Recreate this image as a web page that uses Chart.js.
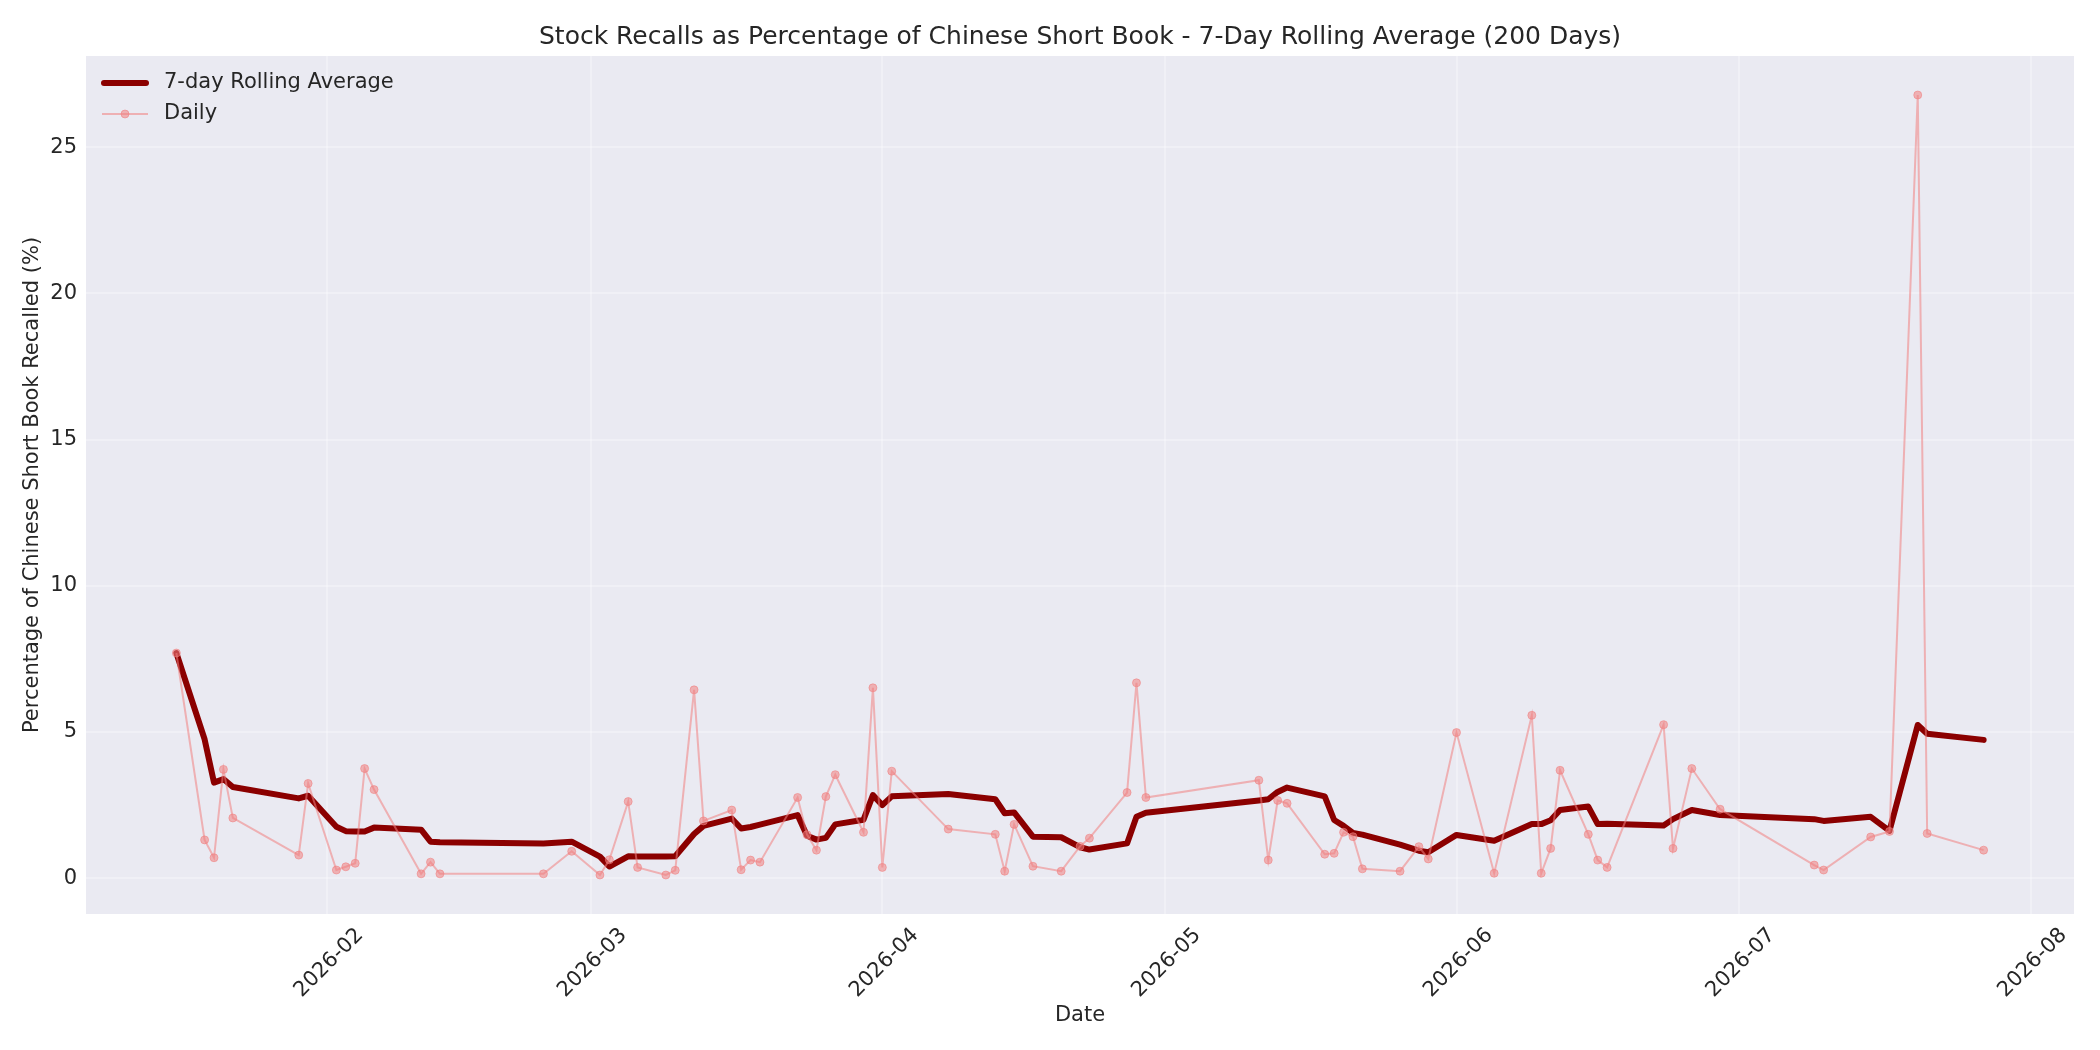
<!DOCTYPE html>
<html>
<head>
<meta charset="utf-8">
<title>Stock Recalls</title>
<script src="https://cdn.jsdelivr.net/npm/chart.js@4.4.1/dist/chart.umd.min.js"></script>
<style>
  html, body { margin: 0; padding: 0; background: #ffffff; }
  #wrap { width: 2100px; height: 1050px; }
</style>
</head>
<body>
<div id="wrap"><canvas id="myChart" width="2100" height="1050"></canvas></div>
<script>
'use strict';

// trading days that have a value
const dates = [
  '2026-01-16', '2026-01-19', '2026-01-20', '2026-01-21', '2026-01-22', '2026-01-29', '2026-01-30',
  '2026-02-02', '2026-02-03', '2026-02-04', '2026-02-05', '2026-02-06', '2026-02-11', '2026-02-12',
  '2026-02-13', '2026-02-24', '2026-02-27', '2026-03-02', '2026-03-03', '2026-03-05', '2026-03-06',
  '2026-03-09', '2026-03-10', '2026-03-12', '2026-03-13', '2026-03-16', '2026-03-17', '2026-03-18',
  '2026-03-19', '2026-03-23', '2026-03-24', '2026-03-25', '2026-03-26', '2026-03-27', '2026-03-30',
  '2026-03-31', '2026-04-01', '2026-04-02', '2026-04-08', '2026-04-13', '2026-04-14', '2026-04-15',
  '2026-04-17', '2026-04-20', '2026-04-22', '2026-04-23', '2026-04-27', '2026-04-28', '2026-04-29',
  '2026-05-11', '2026-05-12', '2026-05-13', '2026-05-14', '2026-05-18', '2026-05-19', '2026-05-20',
  '2026-05-21', '2026-05-22', '2026-05-26', '2026-05-28', '2026-05-29', '2026-06-01', '2026-06-05',
  '2026-06-09', '2026-06-10', '2026-06-11', '2026-06-12', '2026-06-15', '2026-06-16', '2026-06-17',
  '2026-06-23', '2026-06-24', '2026-06-26', '2026-06-29', '2026-07-09', '2026-07-10', '2026-07-15',
  '2026-07-17', '2026-07-20', '2026-07-21', '2026-07-27'
];

// daily recall share (%)
const dailyPct = [
  7.70, 1.31, 0.70, 3.72, 2.06, 0.79, 3.24,
  0.28, 0.39, 0.51, 3.75, 3.03, 0.15, 0.55,
  0.15, 0.15, 0.92, 0.11, 0.63, 2.62, 0.37,
  0.11, 0.27, 6.44, 1.96, 2.33, 0.29, 0.62,
  0.55, 2.76, 1.49, 0.96, 2.79, 3.54, 1.57,
  6.51, 0.37, 3.66, 1.68, 1.50, 0.24, 1.84,
  0.41, 0.24, 1.09, 1.37, 2.93, 6.68, 2.76,
  3.35, 0.62, 2.66, 2.56, 0.82, 0.85, 1.57,
  1.42, 0.32, 0.24, 1.08, 0.66, 4.98, 0.17,
  5.57, 0.17, 1.02, 3.69, 1.50, 0.62, 0.37,
  5.25, 1.02, 3.75, 2.36, 0.45, 0.28, 1.41,
  1.60, 26.78, 1.53, 0.96
];

// 7-day rolling average (%)
const rollingPct = [
  7.70, 4.75, 3.27, 3.39, 3.12, 2.73, 2.82,
  1.76, 1.61, 1.60, 1.60, 1.73, 1.66, 1.25,
  1.23, 1.19, 1.25, 0.74, 0.40, 0.75, 0.74,
  0.74, 0.75, 1.51, 1.79, 2.04, 1.70, 1.75,
  1.83, 2.16, 1.45, 1.32, 1.38, 1.84, 2.00,
  2.84, 2.50, 2.80, 2.88, 2.70, 2.22, 2.25,
  1.42, 1.40, 1.06, 0.98, 1.19, 2.10, 2.24,
  2.66, 2.70, 2.95, 3.10, 2.80, 1.99, 1.79,
  1.55, 1.49, 1.15, 0.94, 0.89, 1.48, 1.28,
  1.85, 1.85, 1.98, 2.33, 2.45, 1.85, 1.86,
  1.80, 2.02, 2.33, 2.16, 2.02, 1.96, 2.10,
  1.62, 5.24, 4.94, 4.73
];

const xTickLabels = ['2026-02', '2026-03', '2026-04', '2026-05', '2026-06', '2026-07', '2026-08'];
const yTicks = [0, 5, 10, 15, 20, 25];

const toMs = (s) => Date.parse(s + 'T00:00:00Z');
const xs = dates.map(toMs);
const xTickValues = xTickLabels.map(l => toMs(l + '-01'));

// matplotlib style 5% margins
const xSpan = xs[xs.length - 1] - xs[0];
const xMin = xs[0] - xSpan * 0.05;
const xMax = xs[xs.length - 1] + xSpan * 0.05;
const allY = dailyPct.concat(rollingPct);
const yLo = Math.min(...allY);
const yHi = Math.max(...allY);
const yMin = yLo - (yHi - yLo) * 0.05;
const yMax = yHi + (yHi - yLo) * 0.05;

const fmtMonth = (v) => {
  const d = new Date(v);
  return d.getUTCFullYear() + '-' + String(d.getUTCMonth() + 1).padStart(2, '0');
};

const TEXT = '#262626';
const DAILY_COLOR = 'rgba(240, 128, 128, 0.55)';
const ROLL_COLOR = '#8b0000';
const GRID_COLOR = 'rgba(255, 255, 255, 0.3)';

Chart.defaults.font.family = "'DejaVu Sans', sans-serif";
Chart.defaults.color = TEXT;

// grey plot background
const panelBg = {
  id: 'panelBg',
  beforeDraw(chart) {
    const { ctx, chartArea: a } = chart;
    ctx.save();
    ctx.fillStyle = '#ffffff';
    ctx.fillRect(0, 0, chart.width, chart.height);
    ctx.fillStyle = '#eaeaf2';
    ctx.fillRect(a.left, a.top, a.right - a.left, a.bottom - a.top);
    ctx.restore();
  }
};

// legend in the top left corner of the plot
const cornerLegend = {
  id: 'cornerLegend',
  afterDraw(chart) {
    const ctx = chart.ctx;
    const a = chart.chartArea;
    const ds = chart.data.datasets;
    const x0 = a.left + 16, x1 = a.left + 62;
    const rows = [a.top + 27, a.top + 58];
    ctx.save();
    // rolling
    ctx.strokeStyle = ROLL_COLOR;
    ctx.lineWidth = 6;
    ctx.lineCap = 'round';
    ctx.beginPath();
    ctx.moveTo(x0 + 2, rows[0]);
    ctx.lineTo(x1 - 2, rows[0]);
    ctx.stroke();
    // daily
    ctx.strokeStyle = DAILY_COLOR;
    ctx.fillStyle = DAILY_COLOR;
    ctx.lineWidth = 2;
    ctx.lineCap = 'butt';
    ctx.beginPath();
    ctx.moveTo(x0, rows[1]);
    ctx.lineTo(x1, rows[1]);
    ctx.stroke();
    ctx.beginPath();
    ctx.arc((x0 + x1) / 2, rows[1], 4, 0, Math.PI * 2);
    ctx.fill();
    ctx.lineWidth = 1;
    ctx.stroke();
    // labels
    ctx.fillStyle = TEXT;
    ctx.font = "21px 'DejaVu Sans'";
    ctx.textBaseline = 'middle';
    ctx.textAlign = 'left';
    ctx.fillText(ds[0].label, x1 + 16, rows[0]);
    ctx.fillText(ds[1].label, x1 + 16, rows[1]);
    ctx.restore();
  }
};

const ctxDom = document.getElementById('myChart').getContext('2d');

new Chart(ctxDom, {
  type: 'line',
  data: {
    datasets: [
      {
        label: '7-day Rolling Average',
        data: xs.map((x, i) => ({ x: x, y: rollingPct[i] })),
        borderColor: ROLL_COLOR,
        borderWidth: 6,
        borderJoinStyle: 'round',
        borderCapStyle: 'round',
        pointRadius: 0,
        tension: 0,
        order: 2
      },
      {
        label: 'Daily',
        data: xs.map((x, i) => ({ x: x, y: dailyPct[i] })),
        borderColor: DAILY_COLOR,
        borderWidth: 2,
        pointRadius: 4,
        pointBackgroundColor: DAILY_COLOR,
        pointBorderColor: DAILY_COLOR,
        pointBorderWidth: 1,
        tension: 0,
        order: 1
      }
    ]
  },
  options: {
    responsive: false,
    animation: false,
    devicePixelRatio: 1,
    layout: { padding: { left: 0, right: 26, top: 0, bottom: 0 } },
    plugins: {
      legend: { display: false },
      tooltip: { enabled: false },
      title: {
        display: true,
        fullSize: false,
        text: 'Stock Recalls as Percentage of Chinese Short Book - 7-Day Rolling Average (200 Days)',
        color: TEXT,
        font: { size: 25, weight: 'normal' },
        padding: { top: 22, bottom: 4 }
      }
    },
    scales: {
      x: {
        type: 'linear',
        min: xMin,
        max: xMax,
        afterBuildTicks: (s) => { s.ticks = xTickValues.map(v => ({ value: v })); },
        afterFit: (s) => { s.height = 136; },
        ticks: {
          callback: (v) => fmtMonth(v),
          autoSkip: false,
          minRotation: 45,
          maxRotation: 45,
          padding: 9,
          labelOffset: 33,
          color: TEXT,
          font: { size: 21 }
        },
        grid: { color: GRID_COLOR, lineWidth: 2, drawTicks: false },
        border: { display: false },
        title: {
          display: true,
          text: 'Date',
          color: TEXT,
          font: { size: 21 },
          padding: { top: 0, bottom: 22 }
        }
      },
      y: {
        type: 'linear',
        min: yMin,
        max: yMax,
        afterBuildTicks: (s) => { s.ticks = yTicks.map(v => ({ value: v })); },
        afterFit: (s) => { s.width = 86; },
        ticks: {
          callback: (v) => String(v),
          padding: 9,
          color: TEXT,
          font: { size: 21 }
        },
        grid: { color: GRID_COLOR, lineWidth: 2, drawTicks: false },
        border: { display: false },
        title: {
          display: true,
          text: 'Percentage of Chinese Short Book Recalled (%)',
          color: TEXT,
          font: { size: 21 },
          padding: { top: 20, bottom: 0 }
        }
      }
    }
  },
  plugins: [panelBg, cornerLegend]
});
</script>
</body>
</html>
